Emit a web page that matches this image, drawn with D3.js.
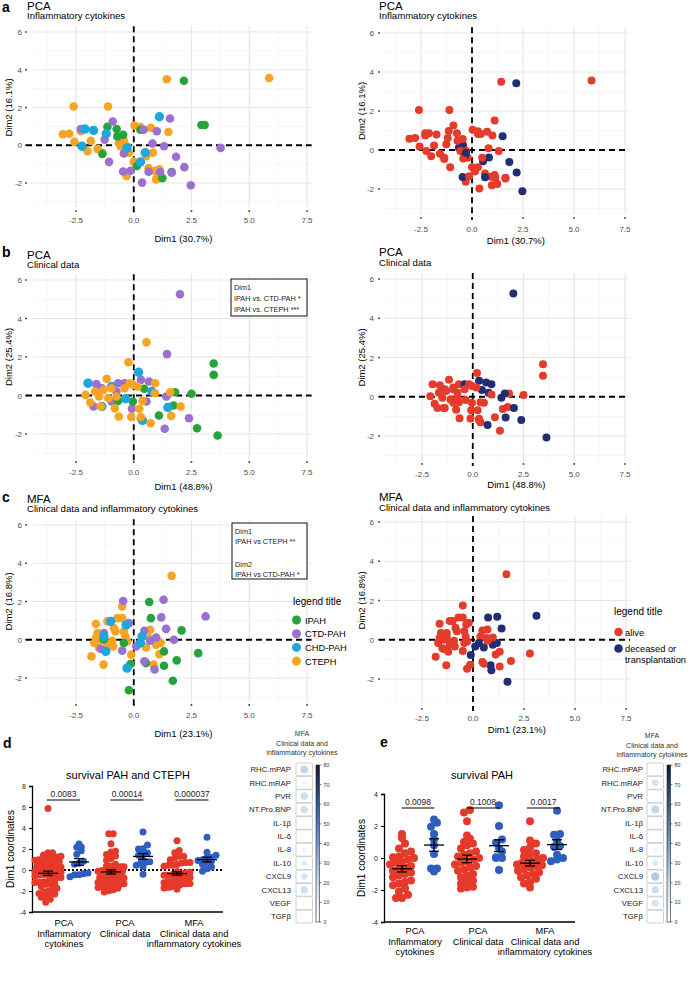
<!DOCTYPE html>
<html lang="en">
<head>
<meta charset="UTF-8">
<title>PCA / MFA and survival</title>
<script src="https://d3js.org/d3.v7.min.js"></script>
<style>
  body { margin: 0; background: #fff; }
  svg { display: block; font-family: "Liberation Sans", Arial, sans-serif; }
</style>
</head>
<body>
<svg id="fig" width="697" height="990"></svg>
<script>
// ---------- data ----------
const groups = ["IPAH", "CTD-PAH", "CHD-PAH", "CTEPH"];
const groupColors = ["#27a33b", "#9b70cf", "#1fa6dc", "#f6a424"];
const statusLabels = ["alive", "deceased or", "transplantation"];
const statusColors = ["#e53b2b", "#232d73"];

// [Dim1, Dim2, group index, status] ; status null = not in survival plot
const pcaCyto = [
  [5.86,3.56,3,0],[1.43,3.5,3,0],[-2.6,2.05,3,0],[-1.11,2.05,3,0],[-3.07,0.58,3,0],[-2.79,0.61,3,0],
  [-2.29,0.74,3,0],[-2.57,0.18,3,0],[-1.86,0.23,3,0],[-2.0,-0.32,3,0],[-1.57,-0.19,3,0],[-1.36,-0.4,3,0],
  [-0.64,0.12,3,1],[-0.43,0.21,3,0],[-0.29,-0.05,3,0],[-0.21,-0.4,3,0],[0.03,1.04,3,0],[0.29,0.96,3,0],
  [0.74,0.93,3,0],[1.5,0.7,3,1],[0.83,-0.39,3,1],[0.54,-0.58,3,1],[0,-0.88,3,0],[0.64,-1.21,3,0],
  [1.11,-1.28,3,0],[0.97,-1.81,3,0],[-0.31,-1.63,3,0],[0.93,-1.37,3,0],[-0.46,0.3,3,1],[-0.57,-0.05,3,0],
  [-0.36,-0.32,3,1],
  [2.17,3.42,0,1],[2.93,1.07,0,null],[3.07,1.07,0,null],[-1.14,0.98,0,0],[-0.74,0.86,0,0],[-0.71,0.47,0,0],
  [-0.46,0.56,0,0],[-1.36,-0.46,0,0],[1.64,-1.42,0,0],[1.24,-1.74,0,0],[0.14,-1.1,0,0],[0.29,0.82,0,0],
  [-0.91,1.26,1,0],[1.57,1.42,1,null],[0.43,0.82,1,0],[1.0,0.74,1,0],[0.81,0.09,1,0],[1.31,-0.05,1,0],
  [1.83,-0.61,1,1],[3.76,-0.14,1,null],[2.19,-1.16,1,1],[2.47,-2.12,1,1],[0.36,-1.98,1,0],[-0.46,-1.39,1,1],
  [-0.14,-1.35,1,0],[-1.07,-0.88,1,0],[-1.26,0.3,1,0],[-2.29,0.86,1,0],[-0.43,-0.44,1,0],[0.64,-1.4,1,1],
  [1.14,-1.42,1,0],[1.64,-1.46,1,0],
  [1.11,1.51,2,0],[-2.11,0.86,2,0],[-1.74,0.79,2,0],[-1.19,0.61,2,0],[-2.24,-0.05,2,0],[0.5,-0.4,2,0],
  [0.29,-0.89,2,0],[-0.29,-0.14,2,1]
];

const pcaClin = [
  [2.0,5.26,1,1],[1.44,2.15,1,null],[0.66,0.73,1,1],[0.31,0.81,1,1],[-0.68,0.64,1,0],[-1.62,0.59,1,0],
  [-1.74,-0.57,1,0],[0.55,-0.31,1,0],[-0.08,-0.69,1,0],[1.34,-1.73,1,0],[2.39,-1.18,1,1],[1.41,-0.05,1,1],
  [-1.38,0.38,1,0],[-0.4,0.64,1,1],[-0.96,-0.31,1,0],[-0.75,0.21,1,0],
  [3.46,1.66,0,0],[3.46,1.07,0,0],[2.5,0.09,0,0],[1.79,0.17,0,0],[1.72,-0.52,0,0],[1.09,-1.04,0,0],
  [2.74,-1.7,0,null],[3.63,-2.08,0,1],[0.45,0.35,0,1],[0.31,-1.18,0,0],[-0.04,-0.31,0,0],[-0.68,-0.28,0,0],
  [-1.98,0.64,2,0],[0.21,1.21,2,0],[0.78,0.21,2,1],[-0.96,0.47,2,0],[-0.35,-0.17,2,0],[-1.38,-0.57,2,0],
  [1.48,-0.62,2,0],[0.38,-1.3,2,0],
  [0.55,2.77,3,null],[-0.23,1.73,3,null],[-1.17,0.87,3,0],[-2.09,0.03,3,0],[-1.88,-0.36,3,0],[-1.5,-0.05,3,0],
  [-1.31,0.29,3,0],[-0.96,0.38,3,0],[-1.43,-0.57,3,0],[-0.82,-0.66,3,0],[-0.65,-1.09,3,0],[-0.11,-1.11,3,0],
  [0.24,-0.69,3,0],[0.38,-0.28,3,0],[0.92,0.64,3,1],[0.92,0.12,3,0],[1.58,0.17,3,1],[2.03,-0.57,3,1],
  [1.62,-1.06,3,1],[0.73,-1.44,3,1],[0.31,-1.12,3,0],[-0.18,0.64,3,0],[-0.04,0.55,3,0],[-0.4,0.38,3,0],
  [-1.67,0.21,3,0],[-1.1,-0.14,3,0],[-0.75,-0.05,3,0],[0.17,0.47,3,0]
];

const mfaAll = [
  [1.64,3.34,3,0],[-0.5,1.74,3,0],[-0.71,1.13,3,0],[-0.5,1.13,3,0],[-1.64,0.82,3,0],[-1.14,0.96,3,0],
  [-0.86,0.61,3,0],[-1.57,0.35,3,0],[-1.71,-0.17,3,0],[-1.83,-0.87,3,0],[-1.31,-1.3,3,0],[-0.93,-0.05,3,0],
  [-1.14,-0.26,3,0],[-0.43,0.43,3,0],[-0.29,-0.09,3,0],[-0.11,-0.78,3,1],[0.53,-0.4,3,1],[0.71,0.52,3,0],
  [0.67,0.09,3,0],[0.97,-0.26,3,1],[1.17,-0.17,3,1],[1.11,-0.75,3,0],[0.86,-1.3,3,1],[-1.43,0,3,0],
  [-0.79,0.43,3,0],[-0.36,0.17,3,0],[-1.64,0.09,3,0],[-1.5,-0.43,3,0],[-0.89,-0.35,3,0],
  [0.67,1.97,0,null],[0.74,1.13,0,1],[2.07,0.49,0,null],[2.79,-0.7,0,0],[1.86,-1.08,0,0],[1.31,-1.36,0,0],
  [1.69,-2.14,0,1],[0.53,-1.22,0,0],[1.31,-0.61,0,0],[-0.21,-2.64,0,null],[-0.14,-1.27,0,0],[-1.3,0.02,0,0],
  [-0.43,-0.17,0,0],
  [-0.46,2.03,1,null],[1.29,2.09,1,null],[3.11,1.22,1,1],[1.19,1.17,1,1],[1.4,0.57,1,1],[1.74,0,1,null],
  [0.97,0.12,1,0],[0.46,0.47,1,0],[0.11,-0.35,1,1],[0.46,-1.13,1,0],[0.9,-1.55,1,1],[-0.5,-0.57,1,0],
  [-1.43,-0.47,1,0],[-1.29,0.35,1,0],[-0.21,0.87,1,0],[0.71,-0.05,1,0],
  [-1.0,0.96,2,0],[-0.33,0.78,2,0],[0.36,0.17,2,0],[0.29,-0.17,2,1],[-1.21,-0.61,2,0],[-0.29,-1.48,2,0],
  [-1.29,0.17,2,0]
];

const xTicks = [-2.5, 0, 2.5, 5, 7.5];
const xMinor = [-3.75, -1.25, 1.25, 3.75, 6.25];
const yTicks = [-2, 0, 2, 4, 6];
const yMinor = [-3, -1, 1, 3, 5];

// survival PAH only (panel e), Dim1 coordinates
const pahCytoAlive = [1.5,1.25,0.9,0.6,0.4,0.1,0,-0.1,-0.3,-0.5,-0.6,-0.7,-0.9,-1.0,-1.2,-1.4,-1.5,-1.7,-1.9,-2.1,-2.3,-2.5,-2.5,-0.2,0.3,-0.8,-1.1,0.05,-0.4,-1.6];
const pahCytoDead = [2.4,2.2,1.95,1.5,1.15,0.8,0.25,-0.65,-0.65,-0.85];
const pahClinAlive = [3.0,2.85,2.3,1.4,1.2,1.0,0.8,0.6,0.4,0.2,0.1,0,-0.1,-0.3,-0.4,-0.6,-0.8,-1.0,-1.2,-1.4,-1.6,-1.8,-1.9,0.9,-0.5,-0.2,-1.1,-1.5,0.3,-0.7,-1.85];
const pahClinDead = [3.3,2.0,1.15,0.95,0.6,0.4,0.0,0.0,0.05,-0.75];
const pahMfaAlive = [2.3,1.1,0.9,0.65,0.5,0.3,0.2,0,-0.1,-0.2,-0.3,-0.4,-0.5,-0.6,-0.8,-1.0,-1.1,-1.3,-1.5,-1.6,-1.85,-0.7,-0.9,0.1,-0.25,-1.2,-0.45];
const pahMfaDead = [2.95,1.5,1.45,1.1,0.75,0.7,0.2,0,-0.1,-0.2];

const pAll = ["0.0083", "0.00014", "0.000037"];
const pPah = ["0.0098", "0.1008", "0.0017"];
const catLabels = [["PCA", "Inflammatory", "cytokines"], ["PCA", "Clinical data"], ["MFA", "Clinical data and", "inflammatory cytokines"]];

const heatVars = ["RHC.mPAP","RHC.mRAP","PVR","NT.Pro.BNP","IL-1β","IL-6","IL-8","IL-10","CXCL9","CXCL13","VEGF","TGFβ"];
const heatAll = [22, 6, 19, 19, 1.4, 0.7, 7.5, 12, 15, 19, 2.4, 0.2];
const heatPah = [0.3, 16, 1.4, 22, 2.4, 0.3, 5.7, 12.8, 26, 19, 16, 0.6];
const heatTicks = [0, 10, 20, 30, 40, 50, 60, 70, 80];

// ---------- drawing ----------
const svg = d3.select("#fig");
const survRed = "#e5392a", survBlue = "#2e5fbf";

function text(g, x, y, s, size, opt = {}) {
  return g.append("text").attr("x", x).attr("y", y).text(s)
    .attr("font-size", size)
    .attr("fill", opt.fill || "#000")
    .attr("font-weight", opt.bold ? "bold" : null)
    .attr("text-anchor", opt.anchor || "start");
}

const pcaPanels = [
  {data: pcaCyto, by: "group", x0: 76, x1: 307, y6: 32, ym2: 183, tickY: 211, tickLabY: 223, xTitleY: 242, yTickX: 26, yLabX: 22, yTitleX: 9,
   title: "PCA", sub: "Inflammatory cytokines", titleX: 27, titleY: 9.5, subY: 19, xl: "Dim1 (30.7%)", yl: "Dim2 (16.1%)"},
  {data: pcaCyto, by: "status", x0: 421, x1: 625, y6: 33, ym2: 189, tickY: 218, tickLabY: 232, xTitleY: 244, yTickX: 379, yLabX: 374, yTitleX: 362,
   title: "PCA", sub: "Inflammatory cytokines", titleX: 379, titleY: 9.5, subY: 19, xl: "Dim1 (30.7%)", yl: "Dim2 (16.1%)"},
  {data: pcaClin, by: "group", x0: 76, x1: 307, y6: 280, ym2: 434, tickY: 462, tickLabY: 475, xTitleY: 490, yTickX: 26, yLabX: 22, yTitleX: 9,
   title: "PCA", sub: "Clinical data", titleX: 27, titleY: 258.5, subY: 268, xl: "Dim1 (48.8%)", yl: "Dim2 (25.4%)"},
  {data: pcaClin, by: "status", x0: 422, x1: 625, y6: 279, ym2: 436, tickY: 464, tickLabY: 477, xTitleY: 488, yTickX: 379, yLabX: 374, yTitleX: 362,
   title: "PCA", sub: "Clinical data", titleX: 379, titleY: 256, subY: 265.5, xl: "Dim1 (48.8%)", yl: "Dim2 (25.4%)"},
  {data: mfaAll, by: "group", x0: 76, x1: 307, y6: 525, ym2: 678, tickY: 705, tickLabY: 718, xTitleY: 737, yTickX: 26, yLabX: 22, yTitleX: 9,
   title: "MFA", sub: "Clinical data and inflammatory cytokines", titleX: 27, titleY: 502.5, subY: 512, xl: "Dim1 (23.1%)", yl: "Dim2 (16.8%)"},
  {data: mfaAll, by: "status", x0: 422, x1: 626, y6: 522, ym2: 679, tickY: 709, tickLabY: 721, xTitleY: 733, yTickX: 379, yLabX: 374, yTitleX: 362,
   title: "MFA", sub: "Clinical data and inflammatory cytokines", titleX: 379, titleY: 500.5, subY: 511, xl: "Dim1 (23.1%)", yl: "Dim2 (16.8%)"}
];

function drawPCA(c) {
  const x = d3.scaleLinear().domain([-2.5, 7.5]).range([c.x0, c.x1]);
  const y = d3.scaleLinear().domain([-2, 6]).range([c.ym2, c.y6]);
  const L = x(-4.35), R = x(7.7), T = y(6.3), B = y(-3.3);
  const g = svg.append("g");

  g.selectAll(null).data(xMinor).join("line")
    .attr("x1", d => x(d)).attr("x2", d => x(d)).attr("y1", T).attr("y2", B)
    .attr("stroke", "#f2f2f2").attr("stroke-width", 0.7);
  g.selectAll(null).data(yMinor).join("line")
    .attr("y1", d => y(d)).attr("y2", d => y(d)).attr("x1", L).attr("x2", R)
    .attr("stroke", "#f2f2f2").attr("stroke-width", 0.7);
  g.selectAll(null).data(xTicks).join("line")
    .attr("x1", d => x(d)).attr("x2", d => x(d)).attr("y1", T).attr("y2", B)
    .attr("stroke", "#e6e6e6").attr("stroke-width", 1.2);
  g.selectAll(null).data(yTicks).join("line")
    .attr("y1", d => y(d)).attr("y2", d => y(d)).attr("x1", L).attr("x2", R)
    .attr("stroke", "#e6e6e6").attr("stroke-width", 1.2);

  // tick marks (small dots) and labels
  g.selectAll(null).data(xTicks).join("line")
    .attr("x1", d => x(d)).attr("x2", d => x(d)).attr("y1", c.tickY - 0.8).attr("y2", c.tickY + 0.8)
    .attr("stroke", "#222").attr("stroke-width", 1.6);
  g.selectAll(null).data(yTicks).join("line")
    .attr("x1", c.yTickX - 0.8).attr("x2", c.yTickX + 0.8).attr("y1", d => y(d)).attr("y2", d => y(d))
    .attr("stroke", "#222").attr("stroke-width", 1.6);
  xTicks.forEach(t => text(g, x(t), c.tickLabY, t.toFixed(1), 8, {anchor: "middle", fill: "#4d4d4d"}));
  yTicks.forEach(t => text(g, c.yLabX, y(t) + 3, String(t), 8, {anchor: "end", fill: "#4d4d4d"}));

  // reference lines
  g.append("line").attr("x1", c.yTickX).attr("x2", R).attr("y1", y(0)).attr("y2", y(0))
    .attr("stroke", "#000").attr("stroke-width", 1.8).attr("stroke-dasharray", "6,4");
  g.append("line").attr("x1", x(0)).attr("x2", x(0)).attr("y1", T).attr("y2", c.tickY + 2)
    .attr("stroke", "#000").attr("stroke-width", 1.8).attr("stroke-dasharray", "6,4");

  // points
  const pts = c.by === "group" ? c.data : c.data.filter(p => p[3] !== null);
  g.selectAll(null).data(pts).join("circle")
    .attr("cx", d => x(d[0])).attr("cy", d => y(d[1]))
    .attr("r", c.by === "group" ? (d => d[2] === 2 ? 4.7 : 4.3) : 4)
    .attr("fill", d => c.by === "group" ? groupColors[d[2]] : statusColors[d[3]]);

  // titles
  text(g, c.titleX, c.titleY, c.title, 11.5);
  text(g, c.titleX, c.subY, c.sub, 9.6);
  text(g, x(2.15), c.xTitleY, c.xl, 9.5, {anchor: "middle"});
  text(g, 0, 0, c.yl, 9.5, {anchor: "middle"})
    .attr("transform", `translate(${c.yTitleX + 3},${y(2)}) rotate(-90)`);
  return {x, y};
}

pcaPanels.forEach(drawPCA);

// panel letters
[["a", 2, 12], ["b", 2, 257], ["c", 2, 502], ["d", 3, 748], ["e", 380, 747]]
  .forEach(([s, x, y]) => text(svg, x, y, s, 14, {bold: true}));

// stats boxes
function statBox(x, y, w, h, lines) {
  svg.append("rect").attr("x", x).attr("y", y).attr("width", w).attr("height", h)
    .attr("fill", "#fff").attr("stroke", "#111").attr("stroke-width", 1);
  lines.forEach(([s, yy]) => text(svg, x + 3, yy, s, 7.3, {fill: "#222"}));
}
statBox(231, 279, 76, 37, [["Dim1", 290], ["IPAH vs. CTD-PAH *", 301], ["IPAH vs. CTEPH ***", 311.5]]);
statBox(232, 523, 75, 56, [["Dim1", 533.5], ["IPAH vs CTEPH **", 544], ["Dim2", 566.5], ["IPAH vs CTD-PAH *", 577]]);

// legends
text(svg, 293, 605, "legend title", 10);
groups.forEach((gname, i) => {
  const yy = 620 + i * 13.7;
  svg.append("circle").attr("cx", 296.5).attr("cy", yy).attr("r", 4.5).attr("fill", groupColors[i]);
  text(svg, 305, yy + 3.5, gname, 9.3);
});
text(svg, 614, 615, "legend title", 10);
svg.append("circle").attr("cx", 618.5).attr("cy", 632).attr("r", 4.3).attr("fill", statusColors[0]);
text(svg, 625, 635.5, statusLabels[0], 9.3);
svg.append("circle").attr("cx", 618.5).attr("cy", 648.5).attr("r", 4.3).attr("fill", statusColors[1]);
text(svg, 625, 652, statusLabels[1], 9.3);
text(svg, 625, 662.5, statusLabels[2], 9.3);

// ---------- survival dot plots ----------
const allSets = [pcaCyto, pcaClin, mfaAll].map(ds =>
  [0, 1].map(s => ds.filter(p => p[3] === s).map(p => p[0])));
const pahSets = [[pahCytoAlive, pahCytoDead], [pahClinAlive, pahClinDead], [pahMfaAlive, pahMfaDead]];

const survPanels = [
  {sets: allSets, title: "survival PAH and CTEPH", titleX: 128, titleY: 779, yDomain: [-4, 8], yTicks: [-4, -2, 0, 2, 4, 6, 8],
   top: 786, bottom: 912, axisX: 32, axisEnd: 223, centers: [48, 79, 111, 143, 177, 207], pvals: pAll,
   catX: [64, 125, 194], catY: 926, yTitleX: 11, r: 3.5, zeroLine: true, binH: 5.5, step: 4.5, maxHalf: 13},
  {sets: pahSets, title: "survival PAH", titleX: 482, titleY: 779, yDomain: [-4, 4], yTicks: [-4, -2, 0, 2, 4],
   top: 794, bottom: 922, axisX: 384, axisEnd: 575, centers: [402, 434, 467, 499, 530, 557], pvals: pPah,
   catX: [415, 478, 545], catY: 934, yTitleX: 362, r: 4, zeroLine: false, binH: 7, step: 6, maxHalf: 13}
];

function swarm(values, y, cx, c) {
  const bins = d3.group(values, v => Math.round(y(v) / c.binH));
  const out = [];
  for (const [, vs] of bins) {
    const n = vs.length;
    const s = n > 1 ? Math.min(c.step, 2 * c.maxHalf / (n - 1)) : 0;
    vs.slice().sort(d3.ascending).forEach((v, i) => out.push({v, x: cx + (i - (n - 1) / 2) * s}));
  }
  return out;
}

function drawSurvival(c) {
  const g = svg.append("g");
  const y = d3.scaleLinear().domain(c.yDomain).range([c.bottom, c.top]);

  text(g, c.titleX, c.titleY, c.title, 11, {anchor: "middle"});
  g.append("g").attr("transform", `translate(${c.axisX},0)`)
    .call(d3.axisLeft(y).tickValues(c.yTicks).tickSize(3).tickFormat(d => String(d)))
    .call(a => a.select(".domain").attr("stroke-width", 1.3))
    .call(a => a.selectAll(".tick line").attr("stroke-width", 1.1))
    .call(a => a.selectAll(".tick text").attr("font-size", 7).attr("font-family", "Liberation Sans, Arial, sans-serif").attr("fill", "#222"));
  g.append("line").attr("x1", c.axisX).attr("x2", c.axisEnd).attr("y1", c.bottom).attr("y2", c.bottom)
    .attr("stroke", "#000").attr("stroke-width", 1.3);
  text(g, 0, 0, "Dim1 coordinates", 10, {anchor: "middle"})
    .attr("transform", `translate(${c.yTitleX + 3},${(c.top + c.bottom) / 2}) rotate(-90)`);

  if (c.zeroLine) {
    g.append("line").attr("x1", c.axisX).attr("x2", c.axisEnd).attr("y1", y(0)).attr("y2", y(0))
      .attr("stroke", "#000").attr("stroke-width", 2).attr("stroke-dasharray", "2,2");
  }

  c.sets.forEach((pair, k) => {
    pair.forEach((vals, s) => {
      const cx = c.centers[k * 2 + s];
      g.selectAll(null).data(swarm(vals, y, cx, c)).join("circle")
        .attr("cx", d => d.x).attr("cy", d => y(d.v)).attr("r", c.r)
        .attr("fill", s === 0 ? survRed : survBlue);
    });
    pair.forEach((vals, s) => {
      const cx = c.centers[k * 2 + s];
      const m = d3.mean(vals), sem = d3.deviation(vals) / Math.sqrt(vals.length);
      const bar = g.append("g").attr("stroke", "#000").attr("stroke-width", 1.3);
      bar.append("line").attr("x1", cx - 10).attr("x2", cx + 10).attr("y1", y(m)).attr("y2", y(m));
      bar.append("line").attr("x1", cx).attr("x2", cx).attr("y1", y(m - sem)).attr("y2", y(m + sem));
      [m - sem, m + sem].forEach(v => bar.append("line").attr("x1", cx - 5).attr("x2", cx + 5).attr("y1", y(v)).attr("y2", y(v)));
    });
    const mid = (c.centers[k * 2] + c.centers[k * 2 + 1]) / 2;
    text(g, mid, c.top + 11, c.pvals[k], 8.5, {anchor: "middle", fill: "#222"});
    g.append("line").attr("x1", mid - 16.5).attr("x2", mid + 16.5).attr("y1", c.top + 14).attr("y2", c.top + 14)
      .attr("stroke", "#000").attr("stroke-width", 1);
    catLabels[k].forEach((s, i) => text(g, c.catX[k], c.catY + i * 10.6, s, 9.3, {anchor: "middle"}));
  });
}

survPanels.forEach(drawSurvival);

// ---------- contribution heatmaps ----------
const heatColor = d3.scaleLinear().domain([0, 20, 50, 80]).range(["#ffffff", "#c9ddf0", "#4a7dbc", "#0c1736"]);
const heatR = d3.scaleSqrt().domain([0, 80]).range([0, 7.5]);

const heatPanels = [
  {vals: heatAll, titleX: 302, titleY: 736, labelX: 291, cellX: 296, barX: 316},
  {vals: heatPah, titleX: 652, titleY: 738, labelX: 643, cellX: 647, barX: 667}
];

svg.append("defs").append("linearGradient").attr("id", "cbar")
  .attr("x1", 0).attr("x2", 0).attr("y1", 1).attr("y2", 0)
  .selectAll("stop").data(d3.range(0, 81, 10)).join("stop")
  .attr("offset", d => d / 80).attr("stop-color", d => heatColor(d));

function drawHeat(c) {
  const g = svg.append("g");
  const band = d3.scaleBand().domain(heatVars).range([763, 923]).paddingInner(0.04);
  ["MFA", "Clinical data and", "inflammatory cytokines"].forEach((s, i) =>
    text(g, c.titleX, c.titleY + i * 9.5, s, 7, {anchor: "middle", fill: "#333"}));
  heatVars.forEach((v, i) => {
    const yy = band(v);
    g.append("rect").attr("x", c.cellX).attr("y", yy).attr("width", 16.5).attr("height", band.bandwidth())
      .attr("fill", "#fff").attr("stroke", "#cfcfcf").attr("stroke-width", 1).attr("rx", 1);
    g.append("circle").attr("cx", c.cellX + 8.25).attr("cy", yy + band.bandwidth() / 2)
      .attr("r", heatR(c.vals[i])).attr("fill", heatColor(c.vals[i]));
    text(g, c.labelX, yy + band.bandwidth() / 2 + 2.8, v, 7.8, {anchor: "end", fill: "#222"});
  });
  const cy = d3.scaleLinear().domain([0, 80]).range([922, 765]);
  g.append("rect").attr("x", c.barX).attr("y", 765).attr("width", 3.5).attr("height", 157)
    .attr("fill", "url(#cbar)").attr("stroke", "#222").attr("stroke-width", 0.6);
  heatTicks.forEach(t => {
    g.append("line").attr("x1", c.barX + 3.5).attr("x2", c.barX + 5.5).attr("y1", cy(t)).attr("y2", cy(t))
      .attr("stroke", "#222").attr("stroke-width", 0.6);
    text(g, c.barX + 7.5, cy(t) + 2, String(t), 5.2, {fill: "#333"});
  });
}

heatPanels.forEach(drawHeat);
</script>
</body>
</html>
